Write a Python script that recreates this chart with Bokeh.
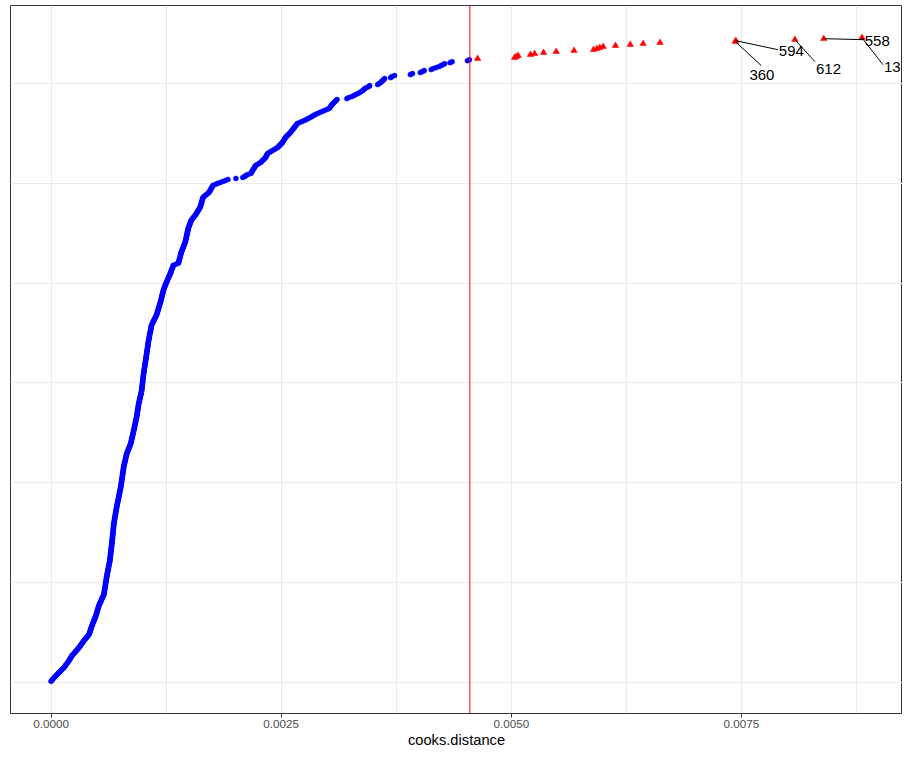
from bokeh.plotting import figure
from bokeh.models import FixedTicker, PrintfTickFormatter, Span, Grid, ColumnDataSource, Range1d
from bokeh.core.properties import value
from bokeh.embed import file_html
from bokeh.resources import INLINE

# Cook's distance values, sorted ascending, in units of 1e-6
cooks_below = [
    0, 9, 18, 27, 36, 47, 57, 68, 78, 89, 100, 110, 121, 132, 143,
    151, 158, 166, 174, 182, 189, 197, 204, 210, 217, 223, 230,
    239, 249, 258, 268, 277, 286, 296, 305, 313, 320, 328, 336, 344, 351, 359,
    368, 377, 386, 395, 404, 413, 417, 420, 424, 427, 431, 434, 438, 441, 445,
    449, 454, 458, 462, 467, 471, 475, 479, 484, 488,
    491, 494, 498, 501, 504, 507, 510, 514, 517, 520,
    525, 530, 535, 540, 545, 549, 554, 559, 564, 569, 574,
    576, 577, 579, 581, 583, 584, 586, 588, 590, 591, 593, 595, 597, 598, 600, 602, 604, 605, 607,
    609, 611, 613, 616, 618, 620, 622, 624, 626, 628, 630, 633, 635, 637, 639,
    640, 642, 643, 644, 645, 647, 648, 649, 651, 652, 653, 654, 656, 657, 658, 660, 661,
    662, 663, 664, 665, 666, 667, 668, 669, 670, 672, 673, 674, 675, 676, 677, 678, 679, 680, 681, 682,
    684, 686, 688, 690, 691, 693, 695, 697, 699, 701, 703, 704, 706, 708, 710, 712, 714,
    716, 718, 721, 723, 725, 727, 729, 732, 734, 736, 738, 740, 743, 745, 747, 749, 751, 754, 756, 758,
    760, 761, 763, 764, 766, 768, 769, 771, 772, 774, 776, 777, 779, 780, 782, 784, 785, 787, 788, 790,
    792, 795, 797, 800, 802, 805, 807, 810, 812, 815, 817, 820, 822,
    826, 831, 835, 839, 844, 848, 852, 856, 861, 865,
    868, 870, 873, 875, 878, 880, 883, 885, 888, 890, 893, 895, 898,
    900, 903, 905, 907, 909, 912, 914, 916, 919, 921, 923, 925, 928, 930,
    932, 933, 935, 937, 938, 940, 942, 944, 945, 947, 949, 950, 952,
    954, 957, 959, 962, 964, 967, 969, 972, 974, 977, 979, 982, 984,
    985, 986, 988, 989, 990, 991, 993, 994, 995, 996, 998, 999, 1000, 1001, 1003, 1004, 1005,
    1007, 1008, 1010, 1012, 1013, 1015, 1017, 1019, 1020, 1022, 1024, 1025, 1027,
    1029, 1030, 1032, 1033, 1035, 1037, 1038, 1040, 1041, 1043, 1045, 1046, 1048, 1049, 1051, 1053, 1054, 1056, 1057, 1059,
    1061, 1063, 1065, 1067, 1069, 1071, 1073, 1075, 1078, 1080, 1082, 1084, 1086, 1088, 1090, 1092,
    1097, 1103, 1108, 1114, 1119, 1124, 1130, 1135, 1141, 1146,
    1149, 1153, 1156, 1159, 1163, 1166, 1169, 1172, 1176, 1179, 1182, 1186, 1189,
    1192, 1194, 1197, 1200, 1202, 1205, 1208, 1210, 1213, 1216, 1218, 1221,
    1225, 1229, 1233, 1237, 1242, 1246, 1250, 1254,
    1259, 1264, 1268, 1273, 1278, 1283, 1288, 1292, 1297,
    1301, 1305, 1309, 1313, 1317, 1321, 1325, 1329, 1356, 1383,
    1386, 1389, 1392, 1395, 1398, 1401, 1404, 1406, 1409, 1412, 1415,
    1419, 1424, 1428, 1432, 1437, 1441, 1445, 1449, 1454, 1458,
    1460, 1463, 1465, 1467, 1470, 1472, 1475, 1477, 1479, 1482, 1484, 1486, 1489, 1491,
    1495, 1499, 1503, 1507, 1511, 1515, 1519, 1523, 1532, 1540, 1549, 1557, 1566,
    1573, 1580, 1586, 1593, 1600, 1607, 1613, 1620,
    1623, 1626, 1630, 1633, 1636, 1639, 1642, 1646, 1649, 1652,
    1665, 1678, 1691, 1704, 1717, 1723, 1729, 1735, 1742, 1748, 1754, 1760,
    1787, 1812, 1840, 1868, 1895, 1922, 2008, 2083, 2105, 2116, 2140, 2170,
    2177, 2184, 2190, 2197, 2204, 2211, 2217, 2224, 2242, 2259, 2277,
    2288, 2299, 2309, 2320, 2331, 2337, 2342, 2348, 2353,
    2371, 2389, 2407, 2425, 2443, 2461,
    2472, 2482, 2493, 2504, 2514, 2521, 2527, 2534, 2540, 2547,
    2558, 2568, 2579, 2590, 2600, 2609, 2617, 2626, 2634, 2643,
    2651, 2659, 2668, 2676, 2701, 2726, 2751, 2773, 2794, 2816,
    2834, 2852, 2870, 2895, 2920, 2945, 2970, 2996, 3021,
    3029, 3037, 3045, 3053, 3064, 3075, 3085, 3096, 3107,
    3214, 3236, 3268, 3290, 3311, 3333, 3354, 3371, 3387, 3398, 3408, 3430, 3452, 3462,
    3548, 3565, 3581, 3592, 3602, 3613, 3624, 3689, 3705, 3732,
    3904, 3926, 4012, 4033, 4055, 4130, 4152, 4184, 4216, 4238, 4259, 4276,
    4335, 4357, 4524, 4545,
]
cooks_above = [
    4634, 5036, 5054, 5075, 5208, 5254, 5351, 5488, 5682,
    5894, 5930, 5962, 5998, 6132, 6293, 6433, 6616,
    7435, 7440, 8082, 8395, 8810,
]
THRESHOLD = 0.00455

label_ids = ["360", "594", "612", "558", "13"]
label_cooks = [7435, 7440, 8082, 8395, 8810]

x_ticks = [0.0, 0.0025, 0.005, 0.0075]
x_minor_ticks = [0.00125, 0.00375, 0.00625, 0.00875]
y_major_ticks = [0, 200, 400, 600]
y_minor_ticks = [100, 300, 500]

# label placement in screen pixels relative to each labelled point
label_dx = [14, 43, 21, 41, 22]
label_dy = [33, 10, 29, 2, 29]
seg_dx = [26, 42, 20, 40, 21]
seg_dy = [24, 9, 22, 1, 27]

UNIT = 1e-6
all_units = cooks_below + cooks_above
cd = [v * UNIT for v in all_units]
n = len(cd)
rank = list(range(1, n + 1))
nb = len(cooks_below)

xmin, xmax = min(cd), max(cd)
ymin, ymax = 1, n
xpad = 0.05 * (xmax - xmin)
ypad = 0.05 * (ymax - ymin)
x0, x1 = xmin - xpad, xmax + xpad
y0, y1 = ymin - ypad, ymax + ypad

W, H = 902, 750
BL, BR, BT, BB = 10, 0, 5, 37
FW, FH = W - BL - BR, H - BT - BB
sx = (x1 - x0) / FW
sy = (y1 - y0) / FH

p = figure(width=W, height=H, output_backend="svg", toolbar_location=None,
           x_range=Range1d(x0, x1), y_range=Range1d(y0, y1),
           y_axis_location=None,
           min_border_left=BL, min_border_right=BR, min_border_top=BT, min_border_bottom=BB)
p.background_fill_color = "white"
p.border_fill_color = "white"
p.outline_line_color = "#333333"
p.outline_line_width = 1
p.grid.visible = False

gx = Grid(dimension=0, ticker=FixedTicker(ticks=x_ticks, minor_ticks=x_minor_ticks),
          grid_line_color="#EBEBEB", grid_line_width=1,
          minor_grid_line_color="#EBEBEB", minor_grid_line_width=1)
gy = Grid(dimension=1, ticker=FixedTicker(ticks=y_major_ticks, minor_ticks=y_minor_ticks),
          grid_line_color="#EBEBEB", grid_line_width=1,
          minor_grid_line_color="#EBEBEB", minor_grid_line_width=1)
p.add_layout(gx)
p.add_layout(gy)

ax = p.xaxis[0]
ax.ticker = FixedTicker(ticks=x_ticks)
ax.formatter = PrintfTickFormatter(format="%.4f")
ax.axis_line_color = None
ax.major_tick_line_color = "#333333"
ax.major_tick_in = 0
ax.major_tick_out = 4
ax.minor_tick_line_color = None
ax.major_label_standoff = 2
ax.major_label_text_font = "Liberation Sans"
ax.major_label_text_font_size = "11.7px"
ax.major_label_text_color = "#4D4D4D"
ax.axis_label = "cooks.distance"
ax.axis_label_text_font = "Liberation Sans"
ax.axis_label_text_font_size = "14.7px"
ax.axis_label_text_font_style = "normal"
ax.axis_label_text_color = "black"
ax.axis_label_standoff = 1

p.scatter(x=cd[:nb], y=rank[:nb], marker="circle", size=5,
          fill_color="#0000FF", line_color="#0000FF", line_width=0.5)
p.scatter(x=cd[nb:], y=rank[nb:], marker="triangle", size=6.5,
          fill_color="#FF0000", line_color="#FF0000", line_width=0.5)

p.add_layout(Span(location=THRESHOLD, dimension="height", line_color="#FF0000", line_width=1))

lx, ly, ex, ey = [], [], [], []
for v, sdx, sdy in zip(label_cooks, seg_dx, seg_dy):
    i = all_units.index(v)
    lx.append(cd[i])
    ly.append(rank[i])
    ex.append(cd[i] + sdx * sx)
    ey.append(rank[i] - sdy * sy)

p.segment(x0=lx, y0=ly, x1=ex, y1=ey, line_color="black", line_width=1)
src = ColumnDataSource(dict(x=lx, y=ly, t=label_ids, dx=label_dx, dy=label_dy))
p.text(x="x", y="y", text="t", x_offset="dx", y_offset="dy", source=src,
       text_font=value("Liberation Sans"), text_font_size="15px",
       text_align="left", text_baseline="middle", text_color="black")

open("out.html", "w").write(file_html(p, INLINE))
